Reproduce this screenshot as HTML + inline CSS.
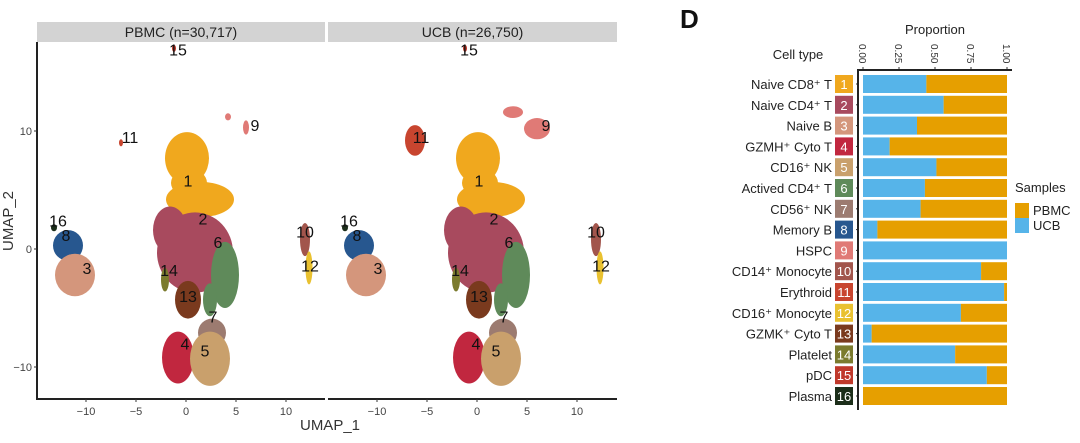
<!DOCTYPE html>
<html><head><meta charset="utf-8"><style>
body{margin:0;background:#fff;width:1080px;height:438px;overflow:hidden;font-family:"Liberation Sans",sans-serif}
svg text{font-family:"Liberation Sans",sans-serif}
</style></head><body>
<svg id="fig" width="1080" height="438"></svg>
<script>
const NS="http://www.w3.org/2000/svg";
// ---- UMAP data (cluster blobs in UMAP units) ----
const clusterIds=[1,1,1,2,2,6,6,13,7,4,5,8,3,14,10,12,15,16];
const clusterX=[0.1,1.4,0.3,0.9,-1.6,3.9,2.4,0.2,2.6,-0.8,2.4,-11.8,-11.1,-2.1,11.9,12.3,-1.2,-13.2];
const clusterY=[7.7,4.2,5.6,-0.3,1.6,-2.2,-4.3,-4.3,-7.1,-9.2,-9.3,0.3,-2.2,-2.6,0.8,-1.6,17,1.8];
const clusterRX=[2.2,3.4,1.8,3.8,1.7,1.4,0.7,1.3,1.4,1.6,2.0,1.5,2.0,0.4,0.5,0.35,0.2,0.3];
const clusterRY=[2.2,1.5,1.2,3.4,2.0,2.8,1.4,1.6,1.2,2.2,2.3,1.3,1.8,1.0,1.4,1.4,0.3,0.3];
const ucbExtraIds=[11,9,9];
const ucbExtraX=[-6.2,6.0,3.6];
const ucbExtraY=[9.2,10.2,11.6];
const ucbExtraRX=[1.0,1.3,1.0];
const ucbExtraRY=[1.3,0.9,0.5];
const pbmcExtraIds=[11,9,9];
const pbmcExtraX=[-6.5,4.2,6.0];
const pbmcExtraY=[9.0,11.2,10.3];
const pbmcExtraRX=[0.2,0.3,0.3];
const pbmcExtraRY=[0.3,0.3,0.6];
const labelIds=[1,2,6,3,8,16,13,7,4,5,10,12,11,9,15,14];
const labelX=[0.2,1.7,3.2,-9.9,-12,-12.8,0.2,2.7,-0.1,1.9,11.9,12.4,-5.6,6.9,-0.8,-1.7];
const labelY=[5.8,2.6,0.6,-1.6,1.2,2.4,-4.0,-5.7,-8,-8.6,1.5,-1.4,9.5,10.5,16.9,-1.8];
const xTicks=[-10,-5,0,5,10];
const yTicks=[10,0,-10];
const colors={1:"#f0a81e",2:"#a84a5e",3:"#d4967c",4:"#c1273f",5:"#c9a06c",6:"#5f8a5a",7:"#9c7b70",8:"#27578f",9:"#e07a76",10:"#a2554c",11:"#c8452f",12:"#e9c130",13:"#7a3a1e",14:"#7b7b2e",15:"#c0392b",16:"#1c2e1a"};
// ---- Proportion data ----
const cellTypes=["Naive CD8⁺ T","Naive CD4⁺ T","Naive B","GZMH⁺ Cyto T","CD16⁺ NK","Actived CD4⁺ T","CD56⁺ NK","Memory B","HSPC","CD14⁺ Monocyte","Erythroid","CD16⁺ Monocyte","GZMK⁺ Cyto T","Platelet","pDC","Plasma"];
const ucbFrac=[0.44,0.56,0.375,0.185,0.51,0.43,0.40,0.10,1.0,0.82,0.98,0.68,0.06,0.64,0.86,0.0];
const propTicks=["0.00","0.25","0.50","0.75","1.00"];

const svg=document.getElementById('fig');
function el(tag,attrs,parent){const e=document.createElementNS(NS,tag);for(const k in attrs)e.setAttribute(k,attrs[k]);(parent||svg).appendChild(e);return e;}
function txt(s,attrs,parent){const t=el('text',attrs,parent);t.textContent=s;return t;}

const sy=v=>249-v*11.8;
const panels=[{x0:186,name:"PBMC  (n=30,717)",left:37,right:325,extraIds:pbmcExtraIds,ex:pbmcExtraX,ey:pbmcExtraY,erx:pbmcExtraRX,ery:pbmcExtraRY,key:'pbmc'},
              {x0:477,name:"UCB  (n=26,750)",left:328,right:617,extraIds:ucbExtraIds,ex:ucbExtraX,ey:ucbExtraY,erx:ucbExtraRX,ery:ucbExtraRY,key:'ucb'}];
panels.forEach(p=>{
  const sx=v=>p.x0+v*10;
  const g=el('g',{});
  
  
  const strip=el('rect',{x:p.left,y:22,width:p.right-p.left,height:20,fill:'#d3d3d3'},g);
  
  
  const st=txt(p.name,{x:(p.left+p.right)/2,y:37,'text-anchor':'middle','font-size':14,fill:'#222'},g);
  
  
  clusterIds.forEach((id,i)=>{
    const e=el('ellipse',{cx:sx(clusterX[i]),cy:sy(clusterY[i]),rx:clusterRX[i]*10,ry:clusterRY[i]*11.8,fill:colors[id]},g);
    
    
  });
  p.extraIds.forEach((id,i)=>{
    const e=el('ellipse',{cx:sx(p.ex[i]),cy:sy(p.ey[i]),rx:p.erx[i]*10,ry:p.ery[i]*11.8,fill:colors[id]},g);
    
    
  });
  labelIds.forEach((id,i)=>{
    const t=txt(String(id),{x:sx(labelX[i]),y:sy(labelY[i])+6,'text-anchor':'middle','font-size':16,fill:'#111'},g);
    
    
  });
  el('line',{x1:p.left,y1:399,x2:p.right,y2:399,stroke:'#222','stroke-width':2},g);
  xTicks.forEach(v=>{
    el('line',{x1:sx(v),y1:399,x2:sx(v),y2:402,stroke:'#333'},g);
    const t=txt(v<0?'−'+(-v):String(v),{x:sx(v),y:415,'text-anchor':'middle','font-size':11,fill:'#444'},g);
    
    
  });
});
el('line',{x1:37,y1:42,x2:37,y2:400,stroke:'#222','stroke-width':2});
yTicks.forEach(v=>{
  el('line',{x1:34,y1:sy(v),x2:37,y2:sy(v),stroke:'#333'});
  const t=txt(v<0?'−'+(-v):String(v),{x:32,y:sy(v)+4,'text-anchor':'end','font-size':11,fill:'#444'});
  
  
});
const xt=txt('UMAP_1',{x:330,y:430,'text-anchor':'middle','font-size':15,fill:'#333'});


const yt=txt('UMAP_2',{x:0,y:0,'text-anchor':'middle','font-size':15,fill:'#333',transform:'translate(13,221) rotate(-90)'});



// ---- Panel D ----
const D=txt('D',{x:680,y:28,'font-size':26,'font-weight':'bold',fill:'#111'});


const bx0=863,bw=144,rowTop=75,pitch=20.8,bh=18;
const px=v=>bx0+v*bw;
const pt=txt('Proportion',{x:935,y:34,'text-anchor':'middle','font-size':13,fill:'#222'});


const ct=txt('Cell type',{x:798,y:59,'text-anchor':'middle','font-size':13,fill:'#222'});


propTicks.forEach((s,i)=>{
  const x=px(i/4);
  el('line',{x1:x,y1:67,x2:x,y2:70,stroke:'#333'});
  const t=txt(s,{x:0,y:0,'font-size':10,fill:'#333',transform:`translate(${x-4},44) rotate(90)`});
  
  
});
cellTypes.forEach((name,i)=>{
  const y=rowTop+i*pitch;
  const u=el('rect',{x:px(0),y:y,width:ucbFrac[i]*bw,height:bh,fill:'#56b4e9'});
  
  
  const p=el('rect',{x:px(ucbFrac[i]),y:y,width:(1-ucbFrac[i])*bw,height:bh,fill:'#e69f00'});
  
  
  const b=el('rect',{x:835,y:y,width:18,height:bh,fill:colors[i+1]});
  
  
  const n=txt(String(i+1),{x:844,y:y+14,'text-anchor':'middle','font-size':13,fill:'#fff'});
  
  
  const l=txt(name,{x:832,y:y+14,'text-anchor':'end','font-size':13,fill:'#222'});
  
  
  el('line',{x1:856,y1:y+bh/2,x2:858,y2:y+bh/2,stroke:'#333'});
});
el('line',{x1:858,y1:69,x2:858,y2:410,stroke:'#222','stroke-width':2});
el('line',{x1:858,y1:70,x2:1012,y2:70,stroke:'#222','stroke-width':2});
const lg=txt('Samples',{x:1015,y:192,'font-size':13,fill:'#222'});


[['PBMC','#e69f00',203],['UCB','#56b4e9',218]].forEach(([n,c,y])=>{
  const r=el('rect',{x:1015,y:y,width:14,height:15,fill:c});
  
  
  const t=txt(n,{x:1033,y:y+12,'font-size':13,fill:'#222'});
  
  
});
</script>
</body></html>
